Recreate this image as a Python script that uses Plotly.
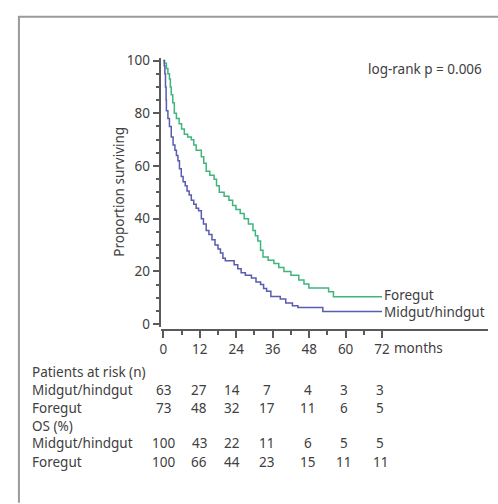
import plotly.graph_objects as go

W, H = 498, 504

# ---- data ----
mid_t = [0, 0.3, 0.5, 0.7, 0.9, 1.0, 1.5, 2.0, 2.6, 3.2, 3.8, 4.3, 4.8, 5.3, 5.9, 6.5, 7.2, 7.8,
         8.5, 9.2, 10.0, 10.8, 11.6, 12.5, 13.2, 14.1, 15.0, 16.0, 17.0, 18.0, 18.8, 19.6, 20.4,
         23.3, 24.5, 25.6, 27.0, 29.0, 30.5, 32.0, 33.0, 34.0, 35.4, 38.5, 40.3, 42.5, 44.3, 52.5, 72]
mid_s = [100, 98, 95, 90, 85, 81, 78, 75, 71, 68, 66, 64, 62, 59, 56, 54, 52.5, 50.5,
         49, 47, 45.5, 44, 43, 40, 38, 35.5, 34, 32, 30, 28.5, 27, 25, 24,
         22.5, 21, 19.5, 18.5, 17.5, 16, 15, 13.5, 12.5, 10.5, 9.5, 8, 7, 6.3, 4.8, 4.8]

fore_t = [0, 0.4, 1.0, 1.5, 2.0, 2.3, 2.6, 3.1, 3.6, 4.3, 5.2, 6.0, 6.9, 8.0, 9.2, 10.0, 10.8,
          12.5, 13.3, 14.1, 15.3, 16.7, 17.5, 18.4, 20.0, 21.6, 22.8, 23.9, 25.3, 26.6, 28.0,
          29.5, 30.3, 31.1, 32.0, 32.8, 34.5, 36.4, 38.0, 39.7, 42.0, 44.6, 46.3, 47.9, 54.4, 56.0, 72]
fore_s = [100, 99, 97, 95, 93, 90, 87, 84, 80, 78, 76, 74, 72, 71, 70, 68, 66,
          63.5, 61, 58, 56.5, 55, 52.5, 50, 48.5, 47, 45, 43.5, 42, 40, 38,
          35.5, 33.5, 31.5, 28, 25.5, 24.2, 23, 21.5, 20, 18.5, 16.7, 15.2, 13.7, 12.3, 10.4, 10.4]

x_ticks = [0, 12, 24, 36, 48, 60, 72]
x_minor = [6, 18, 30, 42, 54, 66]
y_ticks = [0, 20, 40, 60, 80, 100]
y_minor = [5, 10, 15, 25, 30, 35, 45, 50, 55, 65, 70, 75, 85, 90, 95]

risk_mid = [63, 27, 14, 7, 4, 3, 3]
risk_fore = [73, 48, 32, 17, 11, 6, 5]
os_mid = [100, 43, 22, 11, 6, 5, 5]
os_fore = [100, 66, 44, 23, 15, 11, 11]

GREEN = '#3fb57c'
BLUE = '#5a5cae'
TXT = '#404040'
AX = '#5a5a5a'
FONT = 'Noto Sans'
FS = 13.5

def px(x):
    return x / W

def py(y):
    return 1 - y / H

fig = go.Figure()
fig.add_trace(go.Scatter(x=fore_t, y=fore_s, mode='lines', line=dict(color=GREEN, width=1.5, shape='hv'),
                         name='Foregut', hoverinfo='skip'))
fig.add_trace(go.Scatter(x=mid_t, y=mid_s, mode='lines', line=dict(color=BLUE, width=1.5, shape='hv'),
                         name='Midgut/hindgut', hoverinfo='skip'))

ann = []
# curve labels
ann.append(dict(x=72, y=fore_s[-1], xref='x', yref='y', text='Foregut', showarrow=False,
                xanchor='left', yanchor='middle', xshift=0, yshift=1.5))
ann.append(dict(x=72, y=mid_s[-1], xref='x', yref='y', text='Midgut/hindgut', showarrow=False,
                xanchor='left', yanchor='middle', xshift=0, yshift=-1))
# log-rank
ann.append(dict(x=px(365), y=py(64), xref='paper', yref='paper', text='log-rank p = 0.006',
                showarrow=False, xanchor='left', yanchor='middle'))
# y title
ann.append(dict(x=px(118), y=py(190), xref='paper', yref='paper', text='Proportion surviving',
                showarrow=False, textangle=-90, xanchor='center', yanchor='middle'))
# months
ann.append(dict(x=px(392), y=py(350), xref='paper', yref='paper', text='months',
                showarrow=False, xanchor='left', yanchor='middle'))

# risk table
col_x = [162, 198, 231, 266, 307, 343, 380]
rows = [('Patients at risk (n)', None, 375), ('Midgut/hindgut', risk_mid, 393),
        ('Foregut', risk_fore, 412), ('OS (%)', None, 430),
        ('Midgut/hindgut', os_mid, 448), ('Foregut', os_fore, 467)]
for label, vals, yy in rows:
    ann.append(dict(x=px(28), y=py(yy), xref='paper', yref='paper', text=label, showarrow=False,
                    xanchor='left', yanchor='middle'))
    if vals:
        for cx, v in zip(col_x, vals):
            ann.append(dict(x=px(cx), y=py(yy), xref='paper', yref='paper', text=str(v),
                            showarrow=False, xanchor='center', yanchor='middle'))

shapes = [
    dict(type='line', xref='paper', yref='paper', x0=px(17), x1=px(17), y0=py(10), y1=py(H + 5),
         line=dict(color='#9a9a9a', width=2)),
    dict(type='line', xref='paper', yref='paper', x0=px(16), x1=px(W + 5), y0=py(10), y1=py(10),
         line=dict(color='#9a9a9a', width=2)),
]

fig.update_layout(
    width=W, height=H, margin=dict(l=0, r=0, t=0, b=0),
    paper_bgcolor='white', plot_bgcolor='white', showlegend=False,
    font=dict(family=FONT, size=FS, color=TXT),
    annotations=ann, shapes=shapes,
    xaxis=dict(domain=[px(160), px(488)], range=[-0.66, 106.9], anchor='free', position=py(332),
               showline=True, linecolor=AX, linewidth=1.5, showgrid=False, zeroline=False,
               tickmode='array', tickvals=x_ticks, ticks='outside', ticklen=7, tickcolor=AX, tickwidth=1.5,
               minor=dict(tickmode='array', tickvals=x_minor, ticks='outside', ticklen=4,
                          tickcolor=AX, tickwidth=1.5, showgrid=False),
               tickfont=dict(family=FONT, size=FS, color=TXT)),
    yaxis=dict(domain=[py(328.2), py(52.3)], range=[-1, 101], anchor='x',
               showline=True, linecolor=AX, linewidth=1.5, showgrid=False, zeroline=False,
               tickmode='array', tickvals=y_ticks, ticks='outside', ticklen=7, tickcolor=AX, tickwidth=1.5,
               minor=dict(tickmode='array', tickvals=y_minor, ticks='outside', ticklen=4,
                          tickcolor=AX, tickwidth=1.5, showgrid=False),
               tickfont=dict(family=FONT, size=FS, color=TXT)),
)

fig.write_html("out.html", config={'displayModeBar': False},
               post_script="document.body.style.margin='0';")
